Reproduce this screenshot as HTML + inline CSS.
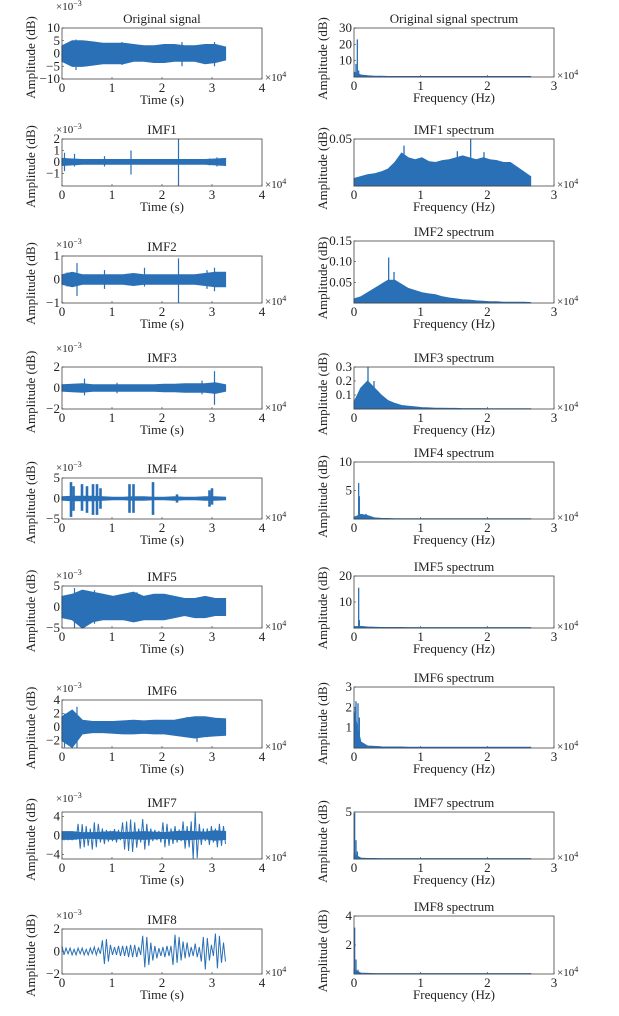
<!DOCTYPE html>
<html><head><meta charset="utf-8"><style>
html,body{margin:0;padding:0;background:#fff;}
svg text{font-family:"Liberation Serif",serif;fill:#222;}
</style></head><body>
<svg id="fig" width="619" height="1011" viewBox="0 0 619 1011" xmlns="http://www.w3.org/2000/svg">
<rect width="619" height="1011" fill="#fff"/>
</svg>
<script>
// ---------- data (time signals, ×10^-3, uniformly spanning 0..32700 s) ----------
const origUpper=[3,5,5,4.5,4,4,4,3.5,3,3,3.5,3.5,3,3,3.5,3.5,2.5];
const origLower=[-3,-5,-5,-4.5,-4,-4,-4,-3,-3,-3.5,-3.5,-3,-3,-3,-4,-3.5,-2.5];
const origSpikeT=[2800,3500,5000,12000,24000,30500];
const origSpikeHi=[5.5,5,5,4.5,4.5,4.5];
const origSpikeLo=[-6.5,-5,-5,-4.5,-5,-5];

const imf1Upper=[0.3,0.25,0.2,0.2,0.2,0.2,0.2,0.2,0.2,0.2,0.2,0.2,0.2,0.2,0.2,0.25,0.3];
const imf1Lower=[-0.3,-0.25,-0.2,-0.2,-0.2,-0.2,-0.2,-0.2,-0.2,-0.2,-0.2,-0.2,-0.2,-0.2,-0.2,-0.25,-0.3];
const imf1SpikeT=[500,2500,8500,13800,23300,29500,31000];
const imf1SpikeHi=[0.8,0.7,0.5,1.0,2.0,0.3,0.4];
const imf1SpikeLo=[-0.8,-0.4,-0.4,-1.1,-2.1,-0.3,-0.4];

const imf2Upper=[0.2,0.3,0.2,0.2,0.2,0.2,0.2,0.25,0.2,0.2,0.2,0.2,0.2,0.2,0.25,0.3,0.3];
const imf2Lower=[-0.2,-0.3,-0.2,-0.2,-0.2,-0.2,-0.2,-0.25,-0.2,-0.2,-0.2,-0.2,-0.2,-0.2,-0.25,-0.3,-0.3];
const imf2SpikeT=[1000,3000,8500,16500,23300,29000,30500];
const imf2SpikeHi=[0.3,0.7,0.4,0.5,0.9,0.4,0.5];
const imf2SpikeLo=[-0.3,-0.7,-0.4,-0.3,-1.0,-0.4,-0.5];

const imf3Upper=[0.3,0.35,0.4,0.3,0.3,0.3,0.3,0.3,0.3,0.3,0.35,0.35,0.4,0.4,0.4,0.5,0.3];
const imf3Lower=[-0.3,-0.35,-0.4,-0.3,-0.3,-0.3,-0.3,-0.3,-0.3,-0.3,-0.35,-0.35,-0.4,-0.4,-0.4,-0.5,-0.3];
const imf3SpikeT=[4500,11000,28000,30500];
const imf3SpikeHi=[0.9,0.5,0.7,1.6];
const imf3SpikeLo=[-0.7,-0.5,-0.6,-1.6];

const imf4Upper=[0.4,0.5,0.5,0.5,0.4,0.3,0.3,0.4,0.4,0.3,0.3,0.4,0.3,0.3,0.4,0.4,0.3];
const imf4Lower=[-0.4,-0.5,-0.5,-0.5,-0.4,-0.3,-0.3,-0.4,-0.4,-0.3,-0.3,-0.4,-0.3,-0.3,-0.4,-0.4,-0.3];
const imf4SpikeT=[1800,2300,4000,5000,6200,7000,7700,13500,14300,18200,23000,29500,30000];
const imf4SpikeHi=[4,3,3.5,3,3.5,3.5,2.5,3.5,3.5,4,1,2,2.5];
const imf4SpikeLo=[-4.5,-3,-3,-3.5,-4,-4,-2.5,-3.5,-3.5,-4,-1,-2,-1.5];

const imf5Upper=[2.5,3,4,3.5,3,2.5,3,3.5,2.5,3,3,2.5,2,2,2.5,2,2];
const imf5Lower=[-2.5,-3,-5,-3.5,-3,-3,-3,-3.5,-3,-3,-3,-2.5,-2,-2.5,-2.5,-2,-2];
const imf5SpikeT=[2500,6500,15000];
const imf5SpikeHi=[4.5,4,3.5];
const imf5SpikeLo=[-5,-4,-3.5];

const imf6Upper=[1.5,2.5,1,0.8,0.8,0.8,0.9,1,0.9,1,1,1,1.3,1.5,1.5,1.3,1.2];
const imf6Lower=[-2,-3,-1,-0.8,-0.8,-0.9,-1,-1,-0.9,-1,-1,-1.2,-1.4,-1.6,-1.4,-1.3,-1.2];
const imf6SpikeT=[500,3000,25000,27000,29000];
const imf6SpikeHi=[2,3,1.5,1.5,1.5];
const imf6SpikeLo=[-3,-3.5,-1.5,-2.2,-1.5];

const imf7Extrema=[0.5,-0.8,0.8,-1,0.9,-1,0.8,-0.9,
 2.5,-2.8,2.4,-2.5,2.0,-2.2,1.5,
 -3,2.8,-2.5,2.5,-1.5,
 1.5,-1.8,1.2,-1.3,1.0,-1.2,1.4,-1.5,1.2,-1,
 2.8,-3,3,-3.3,3.4,-3.5,2.8,-2.6,1.5,-1.5,
 3.5,-3,2.5,-2.2,1.5,
 -1.2,1.2,-1,1.0,-1.5,2.8,-2.5,2.5,-2.2,1.5,
 -1.8,2,-1.5,1.3,-1.2,3,-2.8,2,
 -2.5,3,-5,5,-4.8,2.5,-2,1.5,
 -1.2,1.5,-2.0,2.0,-1.5,1.5,-2.5,2.5,-2.2,2.0,-1.8];
const imf7Upper=[0.8,0.8,0.6,0.6,0.7,0.8,0.6,0.7,0.8,0.7,0.6,0.8,0.9,0.8,0.7,1.0,0.8];
const imf7Lower=[-0.8,-0.8,-0.6,-0.6,-0.7,-0.8,-0.6,-0.7,-0.8,-0.7,-0.6,-0.8,-0.9,-0.8,-0.7,-1.0,-0.8];

const imf8Extrema=[0.5,-0.3,0.3,-0.2,0.3,-0.3,0.2,-0.3,0.3,-0.2,0.3,-0.3,0.2,-0.3,0.3,-0.2,0.4,-0.3,0.3,-0.2,
 1.0,-1.1,1.1,-0.9,0.6,
 -0.3,0.4,-0.3,0.5,-0.4,0.5,-0.4,0.5,-0.5,0.6,-0.5,0.6,-0.5,0.4,-0.3,
 1.4,-1.4,1.3,-1.2,0.8,
 -0.8,0.5,-0.6,0.3,-0.4,0.4,-0.5,0.5,-0.4,0.5,
 -1.2,1.5,-1.0,1.3,-0.8,0.9,-0.6,0.8,
 -0.5,0.4,-0.4,0.7,-0.5,0.4,-0.9,
 1.3,-1.6,1.2,-0.8,0.6,-0.4,1.6,-1.5,1.4,-1.0,0.8,-0.9];

// ---------- spectra (envelopes uniformly spanning 0..26500 Hz) ----------
const origSpecEnv=[3,1.2,0.8,0.5,0.4,0.3,0.3,0.3,0.3,0.3,0.3,0.3,0.3,0.3,0.3,0.3,0.3,0.3,0.3,0.3,0.3,0.3,0.3,0.3,0.3,0.3,0.3];
const origSpecF=[300,500,700,1800];
const origSpecA=[8,23,4,1.2];
const imf1SpecEnv=[0.008,0.01,0.012,0.013,0.015,0.018,0.025,0.035,0.03,0.028,0.03,0.026,0.025,0.027,0.028,0.03,0.032,0.03,0.028,0.03,0.028,0.027,0.025,0.025,0.02,0.015,0.01];
const imf1SpecF=[7500,15500,17500,19500];
const imf1SpecA=[0.043,0.037,0.05,0.036];
const imf2SpecEnv=[0.01,0.015,0.025,0.035,0.045,0.055,0.055,0.045,0.035,0.03,0.025,0.022,0.02,0.015,0.012,0.01,0.008,0.007,0.005,0.004,0.003,0.003,0.002,0.002,0.002,0.002,0.001];
const imf2SpecF=[5200,6000];
const imf2SpecA=[0.11,0.075];
const imf3SpecEnv=[0.05,0.15,0.2,0.15,0.1,0.06,0.04,0.025,0.02,0.015,0.01,0.008,0.006,0.005,0.004,0.004,0.003,0.003,0.003,0.003,0.002,0.002,0.002,0.002,0.002,0.002,0.002];
const imf3SpecF=[2100,3000];
const imf3SpecA=[0.3,0.2];
const imf4SpecEnv=[0.3,0.8,0.6,0.2,0.1,0.08,0.06,0.05,0.05,0.05,0.04,0.04,0.04,0.04,0.04,0.04,0.04,0.04,0.04,0.04,0.04,0.04,0.04,0.04,0.04,0.04,0.04];
const imf4SpecF=[700,800,1800];
const imf4SpecA=[6.3,4,0.9];
const imf5SpecEnv=[0.5,0.6,0.4,0.3,0.2,0.2,0.2,0.2,0.15,0.15,0.15,0.15,0.15,0.15,0.15,0.15,0.15,0.15,0.15,0.15,0.15,0.15,0.15,0.15,0.15,0.15,0.15];
const imf5SpecF=[700,800];
const imf5SpecA=[15.5,3];
const imf6SpecEnv=[1.8,0.3,0.1,0.08,0.06,0.05,0.05,0.05,0.04,0.04,0.04,0.04,0.04,0.04,0.04,0.04,0.04,0.04,0.04,0.04,0.04,0.04,0.04,0.04,0.04,0.04,0.04];
const imf6SpecF=[200,300,600,800];
const imf6SpecA=[2.0,2.3,2.2,1.5];
const imf7SpecEnv=[0.5,0.1,0.05,0.05,0.04,0.04,0.04,0.04,0.04,0.04,0.04,0.04,0.04,0.04,0.04,0.04,0.04,0.04,0.04,0.04,0.04,0.04,0.04,0.04,0.04,0.04,0.04];
const imf7SpecF=[100,300,500];
const imf7SpecA=[4.9,2,0.8];
const imf8SpecEnv=[0.3,0.06,0.04,0.03,0.03,0.03,0.03,0.03,0.03,0.03,0.03,0.03,0.03,0.03,0.03,0.03,0.03,0.03,0.03,0.03,0.03,0.03,0.03,0.03,0.03,0.03,0.03];
const imf8SpecF=[100,300,600];
const imf8SpecA=[3.2,1,0.3];

// tick labels
const timeTicks=[0,1,2,3,4];
const freqTicks=[0,1,2,3];

const C='#2a70b6';
const svg=document.getElementById('fig');
const NS='http://www.w3.org/2000/svg';
function mk(tag,attrs,parent){const e=document.createElementNS(NS,tag);for(const k in attrs)e.setAttribute(k,attrs[k]);(parent||svg).appendChild(e);return e;}
function txt(s,x,y,size,anchor,parent){const t=mk('text',{x:x,y:y,'font-size':size,'text-anchor':anchor||'middle'},parent);t.textContent=s;return t;}

function frame(g,x0,x1,top,bot,title,ymin,ymax,yticks,yfmt,xmaxTick,xticks,xlabel,expoGap,key){
  const sx=v=>x0+(v/xmaxTick)*(x1-x0);
  const sy=v=>bot-(v-ymin)/(ymax-ymin)*(bot-top);
  const t=txt(title,(x0+x1)/2,top-5,13,'middle',g);
  
  
  xticks.forEach(v=>{
    mk('line',{x1:sx(v),x2:sx(v),y1:bot,y2:bot-2,stroke:'#333','stroke-width':0.6},g);
    const l=txt(String(v),sx(v),bot+13,13,'middle',g);
    
    
  });
  yticks.forEach(v=>{
    mk('line',{x1:x0,x2:x0+2,y1:sy(v),y2:sy(v),stroke:'#333','stroke-width':0.6},g);
    const l=txt(yfmt(v),x0-2,sy(v)+4,13,'end',g);
    
    
  });
  const xl=txt(xlabel,(x0+x1)/2,bot+25,13,'middle',g);
  
  
  const cy=(top+bot)/2+ (xlabel==='Time (s)'?4:6);
  const yl=txt('Amplitude (dB)',0,0,13,'middle',g);
  yl.setAttribute('transform','translate('+(x0-27)+','+cy+') rotate(-90)');
  
  
  const ex=txt('×10',x1+3,bot+2,11,'start',g);
  const sup=mk('tspan',{dy:-4,'font-size':8},ex);sup.textContent='4';
  
  
  if(expoGap!==null){
    const e2=txt('×10',x0-6,top-expoGap+4,11,'start',g);
    const s2=mk('tspan',{dy:-4,'font-size':8},e2);s2.textContent='−3';
    
    
  }
  return {sx,sy};
}
function box(g,x0,x1,top,bot,key){
  const r=mk('rect',{x:x0,y:top,width:x1-x0,height:bot-top,fill:'none',stroke:'#444','stroke-width':0.8},g);
  
  
}

const L0=62,L1=262,R0=354,R1=554,TEND=32700,FEND=26500;
function timePanel(key,title,top,bot,ymin,ymax,yticks,expoGap,upper,lower,spT,spHi,spLo,extrema){
  const g=mk('g',{});
  
  
  const {sx,sy}=frame(g,L0,L1,top,bot,title,ymin,ymax,yticks,v=>String(v).replace('-','−'),4,timeTicks,'Time (s)',expoGap,key);
  const X=t=>sx(t/10000);
  const sv=v=>Math.max(top,Math.min(bot,sy(v)));
  if(upper){
    let d='';
    upper.forEach((v,i)=>{d+=(i?'L':'M')+X(i*TEND/(upper.length-1)).toFixed(1)+','+sv(v).toFixed(1);});
    for(let i=lower.length-1;i>=0;i--)d+='L'+X(i*TEND/(lower.length-1)).toFixed(1)+','+sv(lower[i]).toFixed(1);
    const p=mk('path',{d:d+'Z',fill:C,stroke:C,'stroke-width':1.2},g);
    
    
  }
  if(spT){spT.forEach((t,i)=>{
    const s=mk('line',{x1:X(t),x2:X(t),y1:sv(spHi[i]),y2:sv(spLo[i]),stroke:C,'stroke-width':key==='imf4'?2.6:1.2},g);
    
    
  });}
  if(extrema){
    let d='';
    extrema.forEach((v,i)=>{d+=(i?'L':'M')+X(i*TEND/(extrema.length-1)).toFixed(1)+','+sv(v).toFixed(1);});
    const p=mk('path',{d:d,fill:'none',stroke:C,'stroke-width':1},g);
    
    
  }
  box(g,L0,L1,top,bot,key);
}
function specPanel(key,title,top,bot,ymax,yticks,yfmt,env,spF,spA){
  const g=mk('g',{});
  
  
  const {sx,sy}=frame(g,R0,R1,top,bot,title,0,ymax,yticks,yfmt,3,freqTicks,'Frequency (Hz)',null,key+'-spectrum');
  const X=f=>sx(f/10000);
  const sv=v=>Math.max(top,Math.min(bot,sy(v)));
  let d='M'+X(0)+','+bot;
  env.forEach((v,i)=>{d+='L'+X(i*FEND/(env.length-1)).toFixed(1)+','+sv(v).toFixed(1);});
  d+='L'+X(FEND)+','+bot+'Z';
  const p=mk('path',{d:d,fill:C,stroke:C,'stroke-width':1},g);
  
  
  spF.forEach((f,i)=>{
    const s=mk('line',{x1:X(f),x2:X(f),y1:bot,y2:sv(spA[i]),stroke:C,'stroke-width':1.3},g);
    
    
  });
  box(g,R0,R1,top,bot,key+'-spectrum');
}
const f2=v=>v.toFixed(2), f1=v=>v.toFixed(1), f0=v=>String(v);

timePanel('original','Original signal',28,79,-10,10,[-10,-5,0,5,10],22,origUpper,origLower,origSpikeT,origSpikeHi,origSpikeLo,null);
specPanel('original','Original signal spectrum',28,77,30,[10,20,30],f0,origSpecEnv,origSpecF,origSpecA);
timePanel('imf1','IMF1',139,186,-2.1,2,[-1,0,1,2],10,imf1Upper,imf1Lower,imf1SpikeT,imf1SpikeHi,imf1SpikeLo,null);
specPanel('imf1','IMF1 spectrum',139,186,0.05,[0.05],f2,imf1SpecEnv,imf1SpecF,imf1SpecA);
timePanel('imf2','IMF2',256,303,-1,1,[-1,0,1],12,imf2Upper,imf2Lower,imf2SpikeT,imf2SpikeHi,imf2SpikeLo,null);
specPanel('imf2','IMF2 spectrum',241,303,0.15,[0.05,0.10,0.15],f2,imf2SpecEnv,imf2SpecF,imf2SpecA);
timePanel('imf3','IMF3',367,409,-2,2,[-2,0,2],19,imf3Upper,imf3Lower,imf3SpikeT,imf3SpikeHi,imf3SpikeLo,null);
specPanel('imf3','IMF3 spectrum',367,409,0.3,[0.1,0.2,0.3],f1,imf3SpecEnv,imf3SpecF,imf3SpecA);
timePanel('imf4','IMF4',478,519,-5,5,[-5,0,5],11,imf4Upper,imf4Lower,imf4SpikeT,imf4SpikeHi,imf4SpikeLo,null);
specPanel('imf4','IMF4 spectrum',462,519,10,[5,10],f0,imf4SpecEnv,imf4SpecF,imf4SpecA);
timePanel('imf5','IMF5',586,628,-5,5,[-5,0,5],11,imf5Upper,imf5Lower,imf5SpikeT,imf5SpikeHi,imf5SpikeLo,null);
specPanel('imf5','IMF5 spectrum',576,628,20,[10,20],f0,imf5SpecEnv,imf5SpecF,imf5SpecA);
timePanel('imf6','IMF6',700,748,-3.1,4,[-2,0,2,4],12,imf6Upper,imf6Lower,imf6SpikeT,imf6SpikeHi,imf6SpikeLo,null);
specPanel('imf6','IMF6 spectrum',687,748,3,[1,2,3],f0,imf6SpecEnv,imf6SpecF,imf6SpecA);
timePanel('imf7','IMF7',812,859,-5,5,[-4,0,4],14,imf7Upper,imf7Lower,null,null,null,imf7Extrema);
specPanel('imf7','IMF7 spectrum',812,859,5,[5],f0,imf7SpecEnv,imf7SpecF,imf7SpecA);
timePanel('imf8','IMF8',929,974,-2,2,[-2,0,2],14,null,null,null,null,null,imf8Extrema);
specPanel('imf8','IMF8 spectrum',916,974,4,[2,4],f0,imf8SpecEnv,imf8SpecF,imf8SpecA);
</script>
</body></html>
